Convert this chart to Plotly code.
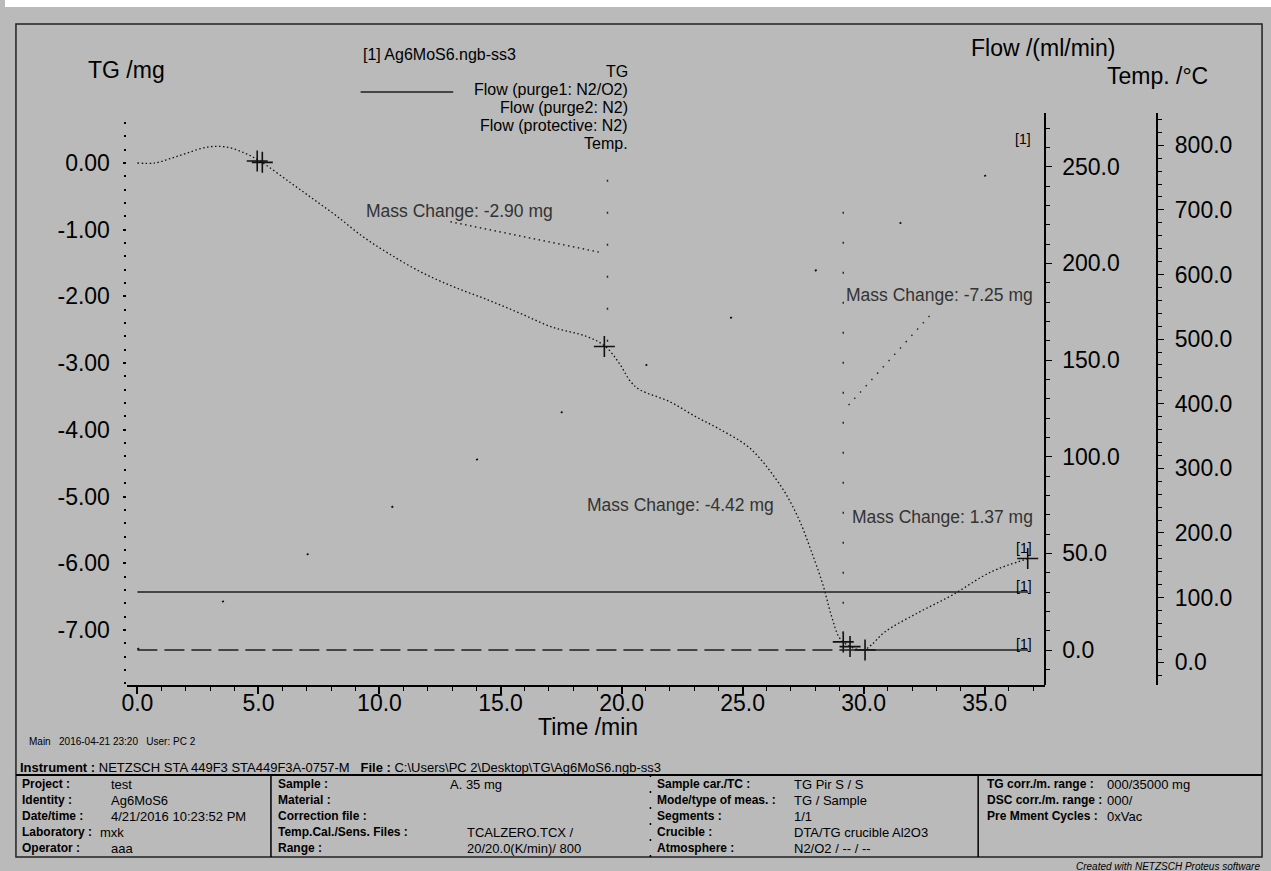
import plotly.graph_objects as go

W, H = 1271, 871

# ---------------- data ----------------
time_tg = [0.0, 0.71, 1.38, 2.05, 2.90, 3.67, 4.43, 5.10, 6.34, 7.30, 8.25, 9.30, 10.35,
           11.69, 13.02, 14.46, 15.79, 17.13, 18.56, 19.33, 19.90, 20.38, 20.76, 22.0,
           23.05, 24.0, 25.15, 25.72, 26.2, 26.77, 27.34, 27.82, 28.30, 28.68, 28.97,
           29.16, 29.45, 29.73, 30.02, 30.31, 30.88, 32.21, 33.65, 35.27, 36.80]
tg_mg = [0.0, 0.0, 0.07, 0.15, 0.24, 0.24, 0.15, 0.02, -0.30, -0.55, -0.80, -1.10,
         -1.35, -1.63, -1.85, -2.05, -2.25, -2.46, -2.60, -2.75, -3.00, -3.28, -3.40,
         -3.58, -3.80, -3.98, -4.23, -4.43, -4.65, -4.95, -5.35, -5.80, -6.30, -6.80,
         -7.10, -7.18, -7.25, -7.29, -7.30, -7.23, -7.03, -6.75, -6.48, -6.13, -5.93]

# evaluation points (crosses)
cross_time = [4.95, 5.16, 19.29, 29.16, 29.44, 30.06, 36.78]
cross_tg = [0.03, 0.01, -2.75, -7.18, -7.25, -7.30, -5.93]

# mass change labels: text, time, TG level, anchor
mass_text = ["Mass Change: -2.90 mg", "Mass Change: -7.25 mg",
             "Mass Change: -4.42 mg", "Mass Change: 1.37 mg"]
mass_time = [9.35, 37.1, 18.5, 37.1]
mass_tg = [-0.72, -1.98, -5.13, -5.31]
mass_anchor = ["left", "right", "left", "right"]

# leader lines of the mass-change labels (TG coordinates)
lead1_time = [12.93, 19.13]
lead1_tg = [-0.88, -1.34]
lead2_time = [29.38, 32.83]
lead2_tg = [-3.63, -2.25]

# step boundaries
step1_time = [19.42, 19.42]
step1_tg = [-0.25, -2.75]
step2_time = [29.16, 29.16]
step2_tg = [-0.73, -7.18]

temp_time = [0.0, 36.8]
temp_c = [20.0, 790.0]

purge1_time = [0.0, 36.8]
purge1_flow = [30.0, 30.0]
purge2_time = [0.0, 29.45]
purge2_flow = [0.0, 0.0]
protective_time = [29.45, 36.8]
protective_flow = [0.0, 0.0]

x_ticks = [0, 5, 10, 15, 20, 25, 30, 35]
x_ticktext = ["0.0", "5.0", "10.0", "15.0", "20.0", "25.0", "30.0", "35.0"]
tg_ticks = [0, -1, -2, -3, -4, -5, -6, -7]
tg_ticktext = ["0.00", "-1.00", "-2.00", "-3.00", "-4.00", "-5.00", "-6.00", "-7.00"]
flow_ticks = [0, 50, 100, 150, 200, 250]
flow_ticktext = ["0.0", "50.0", "100.0", "150.0", "200.0", "250.0"]
temp_ticks = [0, 100, 200, 300, 400, 500, 600, 700, 800]
temp_ticktext = ["0.0", "100.0", "200.0", "300.0", "400.0", "500.0", "600.0", "700.0", "800.0"]

legend_lines = ["TG", "Flow (purge1: N2/O2)", "Flow (purge2: N2)",
                "Flow (protective: N2)", "Temp."]

col1_labels = ["Project :", "Identity :", "Date/time :", "Laboratory :", "Operator :"]
col1_values = ["test", "Ag6MoS6", "4/21/2016 10:23:52 PM", "mxk", "aaa"]
col2_labels = ["Sample :", "Material :", "Correction file :", "Temp.Cal./Sens. Files :", "Range :"]
col2_values = ["A. 35 mg", "", "", "TCALZERO.TCX /", "20/20.0(K/min)/ 800"]
col3_labels = ["Sample car./TC :", "Mode/type of meas. :", "Segments :", "Crucible :", "Atmosphere :"]
col3_values = ["TG Pir S / S", "TG / Sample", "1/1", "DTA/TG crucible Al2O3", "N2/O2 / -- / --"]
col4_labels = ["TG corr./m. range :", "DSC corr./m. range :", "Pre Mment Cycles :"]
col4_values = ["000/35000 mg", "000/", "0xVac"]

# ---------------- helpers ----------------
def fx(x):
    return x / W

def fy(y):
    return 1 - y / H

FONT = "Liberation Sans, Arial, sans-serif"
BG = "#bababa"
INK = "#111111"

fig = go.Figure()

fig.add_trace(go.Scatter(x=time_tg, y=tg_mg, mode="lines", yaxis="y",
                         line=dict(color=INK, width=1.3, dash="1.5px,2.5px", shape="spline"),
                         hoverinfo="skip"))
fig.add_trace(go.Scatter(x=cross_time, y=cross_tg, mode="markers", yaxis="y",
                         marker=dict(symbol="cross-thin", size=15,
                                     line=dict(color=INK, width=1.6)),
                         hoverinfo="skip"))
for tx, ty, dash in [(lead1_time, lead1_tg, "1.5px,3.5px"),
                     (lead2_time, lead2_tg, "1.5px,7px"),
                     (step1_time, step1_tg, "2px,30px"),
                     (step2_time, step2_tg, "2px,28px")]:
    fig.add_trace(go.Scatter(x=tx, y=ty, mode="lines", yaxis="y",
                             line=dict(color="#222222", width=1.4, dash=dash),
                             hoverinfo="skip"))

fig.add_trace(go.Scatter(x=temp_time, y=temp_c, mode="lines", yaxis="y3",
                         line=dict(color=INK, width=1.8, dash="2px,95px"),
                         hoverinfo="skip"))
fig.add_trace(go.Scatter(x=purge1_time, y=purge1_flow, mode="lines", yaxis="y2",
                         line=dict(color="#1e1e1e", width=1.5), hoverinfo="skip"))
fig.add_trace(go.Scatter(x=purge2_time, y=purge2_flow, mode="lines", yaxis="y2",
                         line=dict(color="#1e1e1e", width=1.5, dash="20px,7px"),
                         hoverinfo="skip"))
fig.add_trace(go.Scatter(x=protective_time, y=protective_flow, mode="lines", yaxis="y2",
                         line=dict(color="#1e1e1e", width=1.5), hoverinfo="skip"))

tick_font = dict(family=FONT, size=23, color="black")
y_domain = [fy(685), fy(113)]

fig.update_layout(
    width=W, height=H,
    margin=dict(l=0, r=0, t=0, b=0),
    paper_bgcolor=BG, plot_bgcolor="rgba(0,0,0,0)",
    showlegend=False,
    font=dict(family=FONT, color="black"),
    xaxis=dict(domain=[fx(122), fx(1044)], range=[-0.45, 37.49], anchor="y",
               showgrid=False, zeroline=False, showline=True, linecolor="black",
               linewidth=1.5, ticks="outside", ticklen=7, tickwidth=1.5,
               tickcolor="black", tickvals=x_ticks, ticktext=x_ticktext,
               tickfont=tick_font, ticklabelstandoff=-10,
               minor=dict(tickvals=list(range(0, 38)), ticklen=4, tickwidth=1,
                          tickcolor="black", ticks="outside")),
    yaxis=dict(domain=y_domain, range=[-7.826, 0.75], anchor="x",
               showgrid=False, zeroline=False, showline=False,
               ticks="outside", ticklen=3, tickwidth=2, tickcolor="black",
               tickvals=tg_ticks, ticktext=tg_ticktext, tickfont=tick_font,
               ticklabelstandoff=8,
               minor=dict(tickvals=[round(-7.8 + 0.2 * i, 1) for i in range(43)],
                          ticklen=2, tickwidth=2, tickcolor="black", ticks="outside")),
    yaxis2=dict(overlaying="y", anchor="free", position=fx(1044), side="right",
                range=[-18.1, 277.8], showgrid=False, zeroline=False, showline=True,
                linecolor="black", linewidth=1.5, ticks="outside", ticklen=6,
                tickwidth=1.2, tickcolor="black", tickvals=flow_ticks,
                ticktext=flow_ticktext, tickfont=tick_font, ticklabelstandoff=6,
                minor=dict(tickvals=list(range(-10, 280, 10)), ticklen=4, tickwidth=1,
                           tickcolor="black", ticks="outside")),
    yaxis3=dict(overlaying="y", anchor="free", position=fx(1157), side="right",
                range=[-35.3, 849.9], showgrid=False, zeroline=False, showline=True,
                linecolor="black", linewidth=1.5, ticks="outside", ticklen=6,
                tickwidth=1.2, tickcolor="black", tickvals=temp_ticks,
                ticktext=temp_ticktext, tickfont=tick_font, ticklabelstandoff=6,
                minor=dict(tickvals=list(range(-20, 850, 20)), ticklen=4, tickwidth=1,
                           tickcolor="black", ticks="outside")),
)

shapes = []
# white strip along the top edge
shapes.append(dict(type="rect", xref="paper", yref="paper", x0=0, x1=1,
                   y0=fy(7), y1=1, fillcolor="white", line=dict(width=0)))
# outer frame
shapes.append(dict(type="rect", xref="paper", yref="paper", x0=fx(11), x1=fx(1262),
                   y0=fy(857), y1=fy(24), line=dict(color="#222222", width=1.5)))
# header rule of the info table
shapes.append(dict(type="line", xref="paper", yref="paper", x0=fx(11), x1=fx(1262),
                   y0=fy(775), y1=fy(775), line=dict(color="black", width=2)))
# column separators
for sx, dash in [(267, "solid"), (648, "2px,14px"), (977, "solid")]:
    shapes.append(dict(type="line", xref="paper", yref="paper", x0=fx(sx), x1=fx(sx),
                       y0=fy(857), y1=fy(775),
                       line=dict(color="black", width=1.5, dash=dash)))
# legend sample for purge1
shapes.append(dict(type="line", xref="paper", yref="paper", x0=fx(357), x1=fx(450),
                   y0=fy(92), y1=fy(92), line=dict(color="#1e1e1e", width=1.3)))
fig.update_layout(shapes=shapes)

ann = []

def text(x, y, s, size, anchor="left", bold=False, italic=False, color="black",
         xref="paper", yref="paper"):
    if bold:
        s = "<b>" + s + "</b>"
    if italic:
        s = "<i>" + s + "</i>"
    ann.append(dict(x=x, y=y, xref=xref, yref=yref, text=s, showarrow=False,
                    xanchor=anchor, yanchor="middle",
                    font=dict(family=FONT, size=size, color=color)))

# axis titles
text(fx(122), fy(70), "TG /mg", 23, "center")
text(fx(1042), fy(48), "Flow /(ml/min)", 23, "center")
text(fx(1157), fy(76), "Temp. /°C", 23, "center")
text(fx(585), fy(727), "Time /min", 23, "center")

# legend block
text(fx(357), fy(54), "[1] Ag6MoS6.ngb-ss3", 16, "left")
for i, s in enumerate(legend_lines):
    text(fx(627), fy(72 + 17.8 * i), s, 16, "right")

# mass change labels
for s, t, v, a in zip(mass_text, mass_time, mass_tg, mass_anchor):
    text(t, v, s, 17.5, a, color="#333333", xref="x", yref="y")

# curve tags
text(37.0, 810, "[1]", 14, "right", xref="x", yref="y3")
text(37.05, -5.77, "[1]", 14, "right", xref="x", yref="y")
text(37.05, 33, "[1]", 14, "right", xref="x", yref="y2")
text(37.05, 3.2, "[1]", 14, "right", xref="x", yref="y2")

# footer
text(fx(22), fy(741), "Main   2016-04-21 23:20   User: PC 2", 10, "left")
text(fx(13), fy(767), "<b>Instrument :</b> NETZSCH STA 449F3 STA449F3A-0757-M   "
     "<b>File :</b> C:\\Users\\PC 2\\Desktop\\TG\\Ag6MoS6.ngb-ss3", 13, "left")
row_y = [784, 800, 816, 832, 848]
for i, y in enumerate(row_y):
    text(fx(15), fy(y), col1_labels[i], 12, bold=True)
    text(fx(93 if col1_values[i] == "mxk" else 104), fy(y), col1_values[i], 13)
    text(fx(272), fy(y), col2_labels[i], 12, bold=True)
    if col2_values[i]:
        text(fx(445 if i == 0 else 462), fy(y), col2_values[i], 13)
    text(fx(653), fy(y), col3_labels[i], 12, bold=True)
    text(fx(790), fy(y), col3_values[i], 13)
for i in range(3):
    text(fx(984), fy(row_y[i]), col4_labels[i], 12, bold=True)
    text(fx(1104), fy(row_y[i]), col4_values[i], 13)
text(fx(1262), fy(866), "Created with NETZSCH Proteus software", 10, "right", italic=True)

fig.update_layout(annotations=ann)

fig.write_html("out.html")
